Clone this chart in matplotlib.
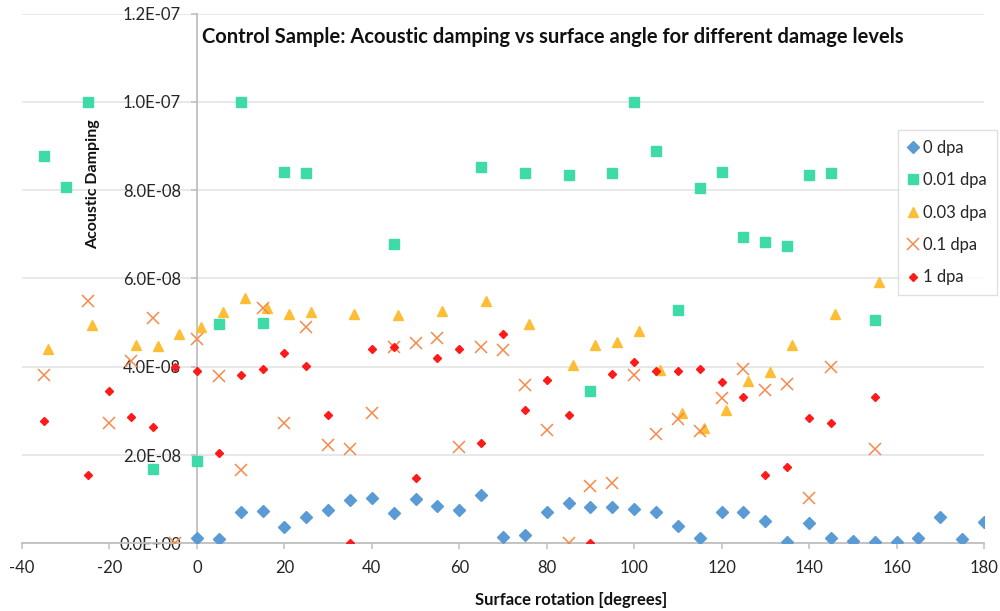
import matplotlib
matplotlib.use("Agg")
import matplotlib.pyplot as plt
from matplotlib.ticker import FuncFormatter, MultipleLocator

plt.rcParams['font.family'] = ['Lato', 'DejaVu Sans']
plt.rcParams['axes.unicode_minus'] = False

# Acoustic damping per surface rotation angle, one set per damage level
x_0dpa = [0, 5, 10, 15, 20, 25, 30, 35, 40, 45, 50, 55, 60, 65, 70, 75, 80, 85, 90,
          95, 100, 105, 110, 115, 120, 125, 130, 135, 140, 145, 150, 155, 160, 165,
          170, 175, 180]
y_0dpa = [0.13e-8, 0.09e-8, 0.70e-8, 0.73e-8, 0.36e-8, 0.60e-8, 0.75e-8, 0.97e-8,
          1.03e-8, 0.69e-8, 1.00e-8, 0.85e-8, 0.75e-8, 1.09e-8, 0.15e-8, 0.18e-8,
          0.70e-8, 0.91e-8, 0.82e-8, 0.82e-8, 0.78e-8, 0.72e-8, 0.39e-8, 0.12e-8,
          0.72e-8, 0.72e-8, 0.51e-8, 0.03e-8, 0.45e-8, 0.12e-8, 0.06e-8, 0.03e-8,
          0.03e-8, 0.12e-8, 0.60e-8, 0.09e-8, 0.48e-8]

x_001dpa = [-35, -30, -25, -10, 0, 5, 10, 15, 20, 25, 45, 65, 75, 85, 90, 95, 100,
            105, 110, 115, 120, 125, 130, 135, 140, 145, 155]
y_001dpa = [8.77e-8, 8.07e-8, 10.0e-8, 1.68e-8, 1.87e-8, 4.96e-8, 10.0e-8, 4.99e-8,
            8.41e-8, 8.38e-8, 6.78e-8, 8.53e-8, 8.38e-8, 8.35e-8, 3.45e-8, 8.38e-8,
            10.0e-8, 8.89e-8, 5.29e-8, 8.04e-8, 8.41e-8, 6.93e-8, 6.83e-8, 6.74e-8,
            8.35e-8, 8.38e-8, 5.07e-8]

x_003dpa = [-34, -24, -14, -9, -4, 1, 6, 11, 16, 21, 26, 36, 46, 56, 66, 76, 86, 91,
            96, 101, 106, 111, 116, 121, 126, 131, 136, 146, 156]
y_003dpa = [4.40e-8, 4.95e-8, 4.49e-8, 4.46e-8, 4.74e-8, 4.89e-8, 5.25e-8, 5.56e-8,
            5.33e-8, 5.20e-8, 5.23e-8, 5.20e-8, 5.17e-8, 5.26e-8, 5.48e-8, 4.98e-8,
            4.04e-8, 4.49e-8, 4.56e-8, 4.80e-8, 3.93e-8, 2.95e-8, 2.62e-8, 3.01e-8,
            3.68e-8, 3.89e-8, 4.49e-8, 5.19e-8, 5.91e-8]

x_01dpa = [-35, -25, -20, -15, -10, -5, 0, 5, 10, 15, 20, 25, 30, 35, 40, 45, 50, 55,
           60, 65, 70, 75, 80, 85, 90, 95, 100, 105, 110, 115, 120, 125, 130, 135,
           140, 145, 155]
y_01dpa = [3.81e-8, 5.50e-8, 2.72e-8, 4.14e-8, 5.10e-8, 0.0, 4.62e-8, 3.78e-8,
           1.66e-8, 5.33e-8, 2.72e-8, 4.89e-8, 2.23e-8, 2.14e-8, 2.96e-8, 4.44e-8,
           4.53e-8, 4.65e-8, 2.18e-8, 4.44e-8, 4.38e-8, 3.59e-8, 2.57e-8, 0.0,
           1.30e-8, 1.36e-8, 3.81e-8, 2.47e-8, 2.81e-8, 2.54e-8, 3.29e-8, 3.96e-8,
           3.47e-8, 3.62e-8, 1.03e-8, 3.99e-8, 2.14e-8]

x_1dpa = [-35, -25, -20, -15, -10, -5, 0, 5, 10, 15, 20, 25, 30, 35, 40, 45, 50, 55,
          60, 65, 70, 75, 80, 85, 90, 95, 100, 105, 110, 115, 120, 125, 130, 135,
          140, 145, 155]
y_1dpa = [2.78e-8, 1.54e-8, 3.44e-8, 2.87e-8, 2.63e-8, 3.99e-8, 3.90e-8, 2.05e-8,
          3.81e-8, 3.96e-8, 4.32e-8, 4.02e-8, 2.90e-8, 0.0, 4.41e-8, 4.44e-8,
          1.48e-8, 4.20e-8, 4.41e-8, 2.27e-8, 4.75e-8, 3.02e-8, 3.69e-8, 2.90e-8,
          0.0, 3.84e-8, 4.11e-8, 3.90e-8, 3.90e-8, 3.96e-8, 3.66e-8, 3.32e-8,
          1.54e-8, 1.72e-8, 2.84e-8, 2.72e-8, 3.32e-8]

series_labels = ["0 dpa", "0.01 dpa", "0.03 dpa", "0.1 dpa", "1 dpa"]

fig = plt.figure(figsize=(10, 6.11), dpi=100)
ax = fig.add_axes([0.022, 0.1108, 0.962, 0.8668])

text_color = "#262626"
axis_color = "#BFBFBF"

ax.plot(x_0dpa, y_0dpa, linestyle="none", marker="D", ms=6.2,
        color="#5B9BD5", markeredgecolor="#5B9BD5", label=series_labels[0], zorder=3)
ax.plot(x_001dpa, y_001dpa, linestyle="none", marker="s", ms=6.5,
        color="#3EDBA9", markeredgecolor="#3EDBA9", label=series_labels[1], zorder=3)
ax.plot(x_003dpa, y_003dpa, linestyle="none", marker="^", ms=6.5,
        color="#FDBE35", markeredgecolor="#FDBE35", label=series_labels[2], zorder=3)
ax.plot(x_01dpa, y_01dpa, linestyle="none", marker="x", ms=8.5, mew=1.1,
        color="#F7884A", label=series_labels[3], zorder=3)
ax.plot(x_1dpa, y_1dpa, linestyle="none", marker="D", ms=4.3,
        color="#FF1A1A", markeredgecolor="#FF1A1A", label=series_labels[4], zorder=3)

ax.set_xlim(-40, 180)
ax.set_ylim(0, 1.2e-7)
ax.xaxis.set_major_locator(MultipleLocator(20))
ax.yaxis.set_major_locator(MultipleLocator(2e-8))
ax.yaxis.set_major_formatter(FuncFormatter(lambda v, p: f"{v:.1E}"))

ax.yaxis.grid(True, color="#E6E6E6", linewidth=1.3, zorder=0)
ax.set_axisbelow(True)

for side in ("top", "right"):
    ax.spines[side].set_visible(False)
ax.spines["left"].set_position(("data", 0))
ax.spines["left"].set_color(axis_color)
ax.spines["bottom"].set_color(axis_color)
ax.spines["left"].set_linewidth(1.3)
ax.spines["bottom"].set_linewidth(1.3)

ax.tick_params(axis="y", direction="out", length=4.5, width=1.1, color=axis_color,
               pad=7, labelsize=12, labelcolor=text_color)
ax.tick_params(axis="x", direction="out", length=4, width=1.1, color=axis_color,
               pad=8, labelsize=12, labelcolor=text_color)

fig.text(0.202, 1 - 37 / 611, "Control Sample: Acoustic damping vs surface angle for different damage levels",
         ha="left", va="center", fontsize=14.5, fontweight="bold", color="#111111")
fig.text(0.571, 1 - 600 / 611, "Surface rotation [degrees]", ha="center", va="center",
         fontsize=12, fontweight="bold", color="#111111")
fig.text(0.093, 1 - 184 / 611, "Acoustic Damping", ha="center", va="center",
         rotation=90, fontsize=11.5, fontweight="bold", color="#111111")

leg = ax.legend(loc="upper left", bbox_to_anchor=(0.898, 1 - 130 / 611),
                bbox_transform=fig.transFigure, frameon=True, fancybox=False,
                fontsize=12, labelspacing=0.98, handlelength=0.6, handletextpad=0.3,
                borderpad=0.6, borderaxespad=0)
leg.get_frame().set_edgecolor("#D9D9D9")
leg.get_frame().set_linewidth(1.0)
for t in leg.get_texts():
    t.set_color(text_color)

fig.savefig("out.png", dpi=100)
